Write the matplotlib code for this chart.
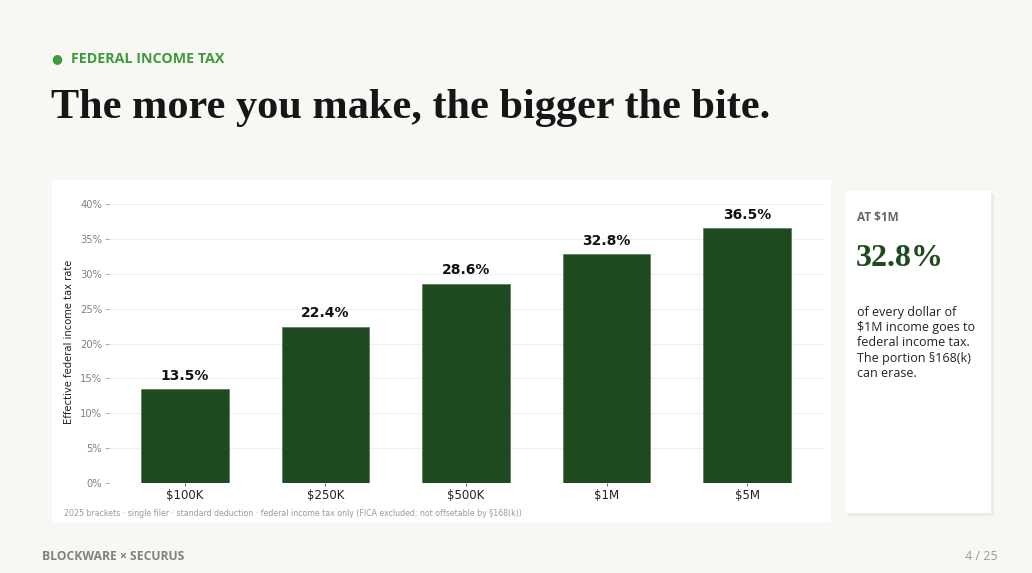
import numpy as np
import matplotlib.pyplot as plt
from matplotlib.patches import Rectangle
from matplotlib.ticker import PercentFormatter

# data
brackets = ["$100K", "$250K", "$500K", "$1M", "$5M"]
eff_rate = [13.5, 22.4, 28.6, 32.8, 36.5]
y_ticks = [0, 5, 10, 15, 20, 25, 30, 35, 40]

W, H = 1032, 573
BG = "#f7f7f3"
BAR = "#1f4a1f"

fig = plt.figure(figsize=(W / 100, H / 100), dpi=100)
fig.patch.set_facecolor(BG)


def fx(px):
    return px / W


def fy(py):
    return 1 - py / H


def rect(x0, y0, x1, y1, color, z=0):
    fig.add_artist(Rectangle((fx(x0), fy(y1)), fx(x1 - x0), (y1 - y0) / H,
                             transform=fig.transFigure, facecolor=color,
                             edgecolor="none", zorder=z))


# chart panel and side card
rect(52, 180, 831, 522, "white")
rect(848, 194, 994, 516, "#ecece7")
rect(846, 191, 991, 513, "white")

# header
fig.text(fx(57), fy(59), "\u25CF", color="#3f9a3a", fontsize=9, ha="center", va="center")
fig.text(fx(71), fy(59), "FEDERAL INCOME TAX", color="#3f9a3a", fontsize=10.3,
         fontweight="bold", ha="left", va="center", family="Open Sans")
fig.text(fx(51), fy(108), "The more you make, the bigger the bite.", color="#161616",
         fontsize=30.4, fontweight="bold", ha="left", va="center", family="Liberation Serif")

# chart
y0px, ppu = 483, 6.975
ax = fig.add_axes([fx(109), fy(y0px), fx(823 - 109), 40.5 * ppu / H])
ax.set_facecolor("white")
x = np.arange(len(brackets))
ax.bar(x, eff_rate, width=0.625, color=BAR, edgecolor="#5f7f5f", linewidth=0.6, zorder=3)
for xi, v in zip(x, eff_rate):
    ax.text(xi, v + 0.9, f"{v:.1f}%", ha="center", va="bottom", fontsize=10,
            fontweight="bold", color="#111111")
ax.set_xlim(-0.54, 4.54)
ax.set_ylim(0, 40.5)
ax.set_yticks(y_ticks)
ax.yaxis.set_major_formatter(PercentFormatter(decimals=0))
ax.set_xticks(x)
ax.set_xticklabels(brackets)
ax.grid(axis="y", color="#efefef", linewidth=0.8, zorder=0)
for s in ax.spines.values():
    s.set_visible(False)
ax.tick_params(axis="y", labelsize=7.2, labelcolor="#808080", color="#9a9a9a", length=3, width=0.6, pad=2)
ax.tick_params(axis="x", labelsize=8.5, labelcolor="#222222", color="#555555", length=2.5, width=0.6, pad=2)
ax.set_ylabel("Effective federal income tax rate", fontsize=7.2, color="#222222", labelpad=4)

fig.text(fx(64), fy(513), "2025 brackets \u00b7 single filer \u00b7 standard deduction \u00b7 federal income tax only (FICA excluded; not offsetable by \u00a7168(k))",
         fontsize=5.7, color="#9a9a9a", ha="left", va="center")

# side card text
fig.text(fx(857), fy(218), "AT $1M", fontsize=8.5, fontweight="bold", color="#666666",
         ha="left", va="center", family="Open Sans")
fig.text(fx(856), fy(259), "32.8%", fontsize=23, fontweight="bold", color="#1f4a1f", ha="left",
         va="center", family="Liberation Serif")
fig.text(fx(857), fy(306), "of every dollar of\n$1M income goes to\nfederal income tax.\nThe portion \u00a7168(k)\ncan erase.",
         fontsize=9, color="#222222", ha="left", va="top", linespacing=1.22, family="Open Sans")

# footer
fig.text(fx(42), fy(556), "BLOCKWARE \u00d7 SECURUS", fontsize=8.7, fontweight="bold", color="#808080",
         ha="left", va="center", family="Open Sans")
fig.text(fx(998), fy(556), "4 / 25", fontsize=9, color="#999999", ha="right", va="center",
         family="Open Sans")

fig.savefig("out.png", dpi=100, facecolor=BG)
